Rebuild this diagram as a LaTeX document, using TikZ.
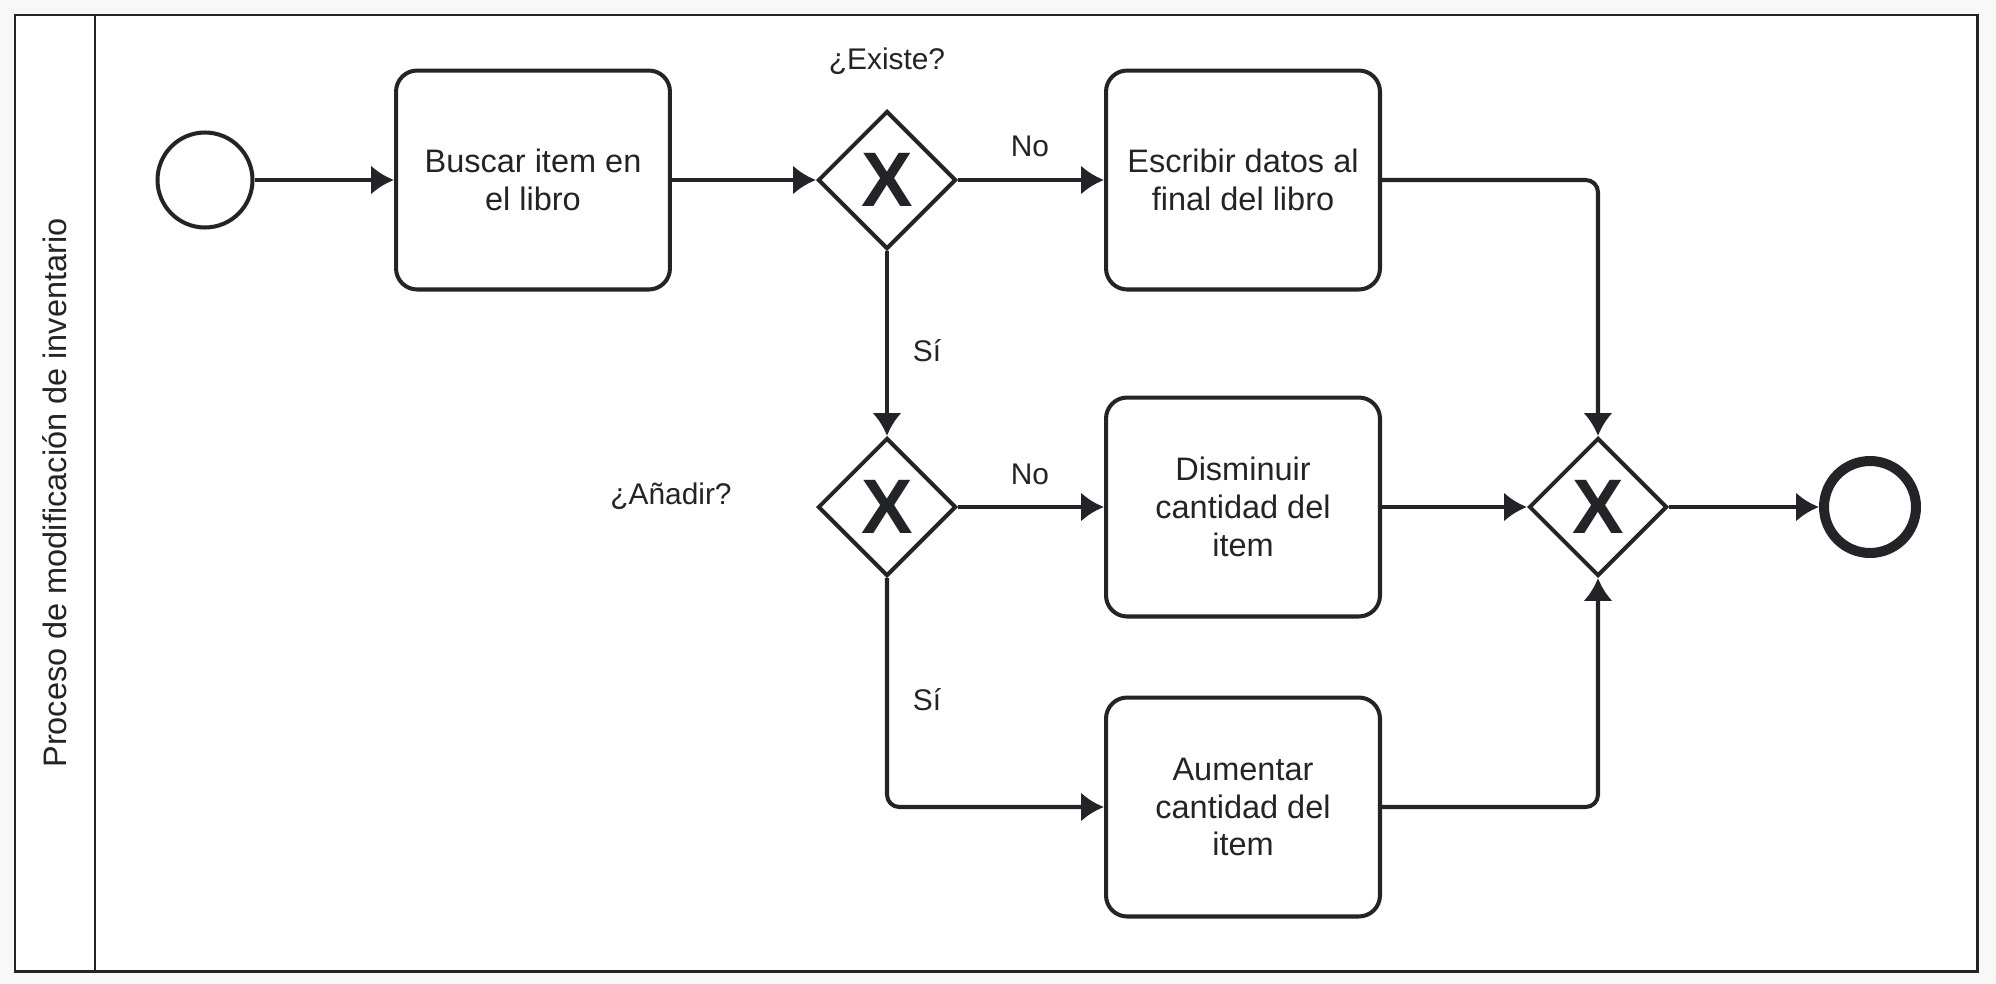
\documentclass[tikz,border=0pt]{standalone}
\usepackage{fontspec}
\setmainfont{Liberation Sans}
\usetikzlibrary{shapes.geometric,arrows.meta}
\definecolor{ink}{RGB}{35,36,40}
\definecolor{paper}{RGB}{248,248,248}
\tikzset{
  task/.style={draw=ink, line width=2.3pt, rounded corners=12pt, fill=white, minimum width=5.48cm, minimum height=4.38cm, align=center, text=ink, font=\fontsize{18.5}{21.6}\selectfont},
  gateway/.style={draw=ink, diamond, line width=2.3pt, fill=white, minimum size=2.76cm, inner sep=0pt, text=ink, font=\fontsize{44}{44}\selectfont\bfseries},
  startev/.style={draw=ink, circle, line width=2.3pt, fill=white, minimum size=1.9cm, inner sep=0pt},
  endev/.style={draw=ink, circle, line width=5.7pt, fill=white, minimum size=1.84cm, inner sep=0pt},
  flow/.style={draw=ink, line width=2.3pt, rounded corners=7pt, -{Latex[length=13pt,width=16.5pt]}},
  lbl/.style={text=ink, font=\fontsize{17}{20}\selectfont},
}
\begin{document}
\begin{tikzpicture}[x=0.02cm, y=-0.02cm]
\useasboundingbox (0,0) rectangle (1996,984);
\fill[paper] (0,0) rectangle (1996,984);
% pool and lane
\draw[ink, line width=1.7pt, fill=white] (15,15) rectangle (1977,971);
\draw[ink, line width=1.7pt] (95,15) -- (95,971);
\node[rotate=90, text=ink, font=\fontsize{18.5}{21.6}\selectfont] (carril) at (55,493) {Proceso de modificación de inventario};

% events, tasks and gateways
\node[startev] (inicio) at (205,180) {};
\node[task] (buscar) at (533,180) {Buscar item en\\el libro};
\node[gateway] (existe) at (887,180) {X};
\node[task] (escribir) at (1243,180) {Escribir datos al\\final del libro};
\node[gateway] (anadir) at (887,507) {X};
\node[task] (disminuir) at (1243,507) {Disminuir\\cantidad del\\item};
\node[task] (aumentar) at (1243,807) {Aumentar\\cantidad del\\item};
\node[gateway] (unir) at (1598,507) {X};
\node[endev] (fin) at (1870,507) {};

% labels
\node[lbl] (qexiste) at (887,61) {¿Existe?};
\node[lbl] (qanadir) at (671,496) {¿Añadir?};
\node[lbl] (no1) at (1030,146) {No};
\node[lbl] (si1) at (927,351) {Sí};
\node[lbl] (no2) at (1030,474) {No};
\node[lbl] (si2) at (927,700) {Sí};

% sequence flows
\draw[flow] (inicio) -- (buscar);
\draw[flow] (buscar) -- (existe);
\draw[flow] (existe) -- (escribir);
\draw[flow] (existe) -- (anadir);
\draw[flow] (anadir) -- (disminuir);
\draw[flow] (anadir) |- (aumentar);
\draw[flow] (escribir) -| (unir);
\draw[flow] (disminuir) -- (unir);
\draw[flow] (aumentar) -| (unir);
\draw[flow] (unir) -- (fin);
\end{tikzpicture}
\end{document}
